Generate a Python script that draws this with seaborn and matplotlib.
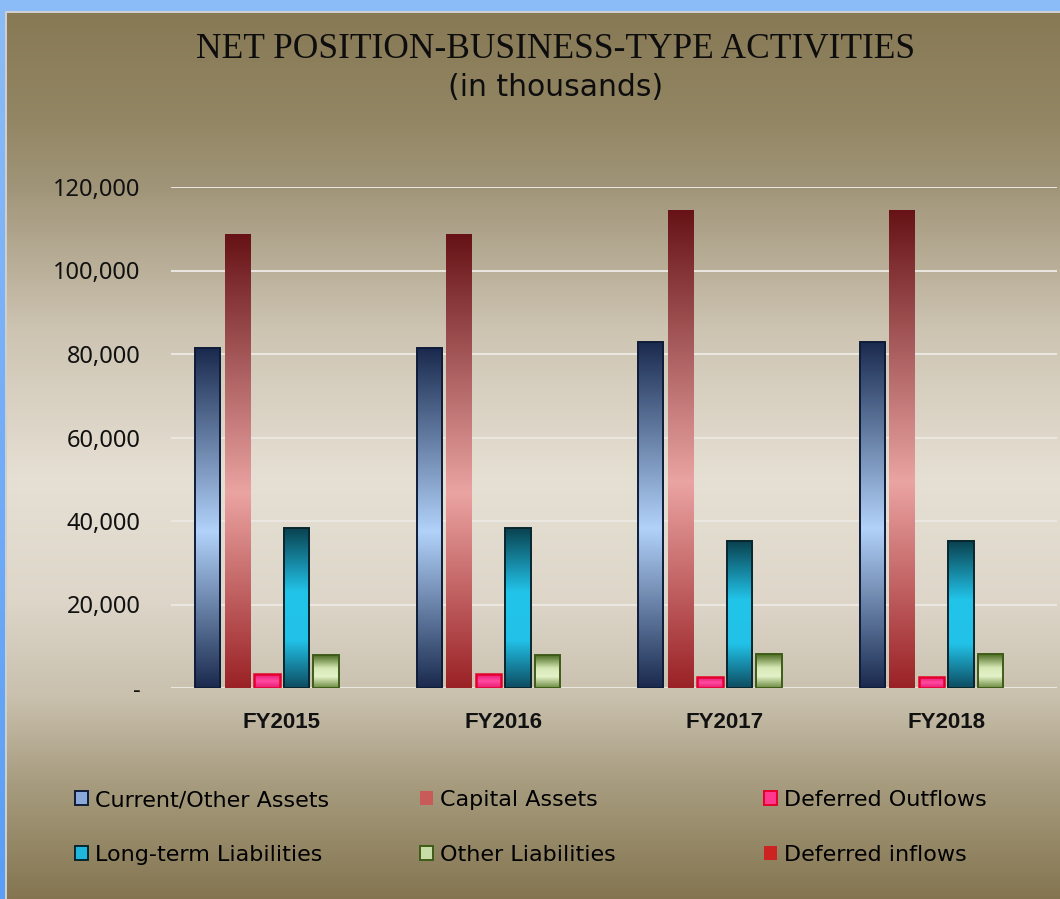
import numpy as np
import pandas as pd
import matplotlib
matplotlib.use("Agg")
import matplotlib.pyplot as plt
import seaborn as sns
from matplotlib.colors import LinearSegmentedColormap, to_rgb
from matplotlib.patches import Patch, Rectangle

# ---------------- data ----------------
years = ["FY2015", "FY2016", "FY2017", "FY2018"]
series = ["Current/Other Assets", "Capital Assets", "Deferred Outflows",
          "Long-term Liabilities", "Other Liabilities", "Deferred inflows"]
current_other_assets = [81400, 81400, 82900, 82900]
capital_assets = [108700, 108700, 114500, 114500]
deferred_outflows = [3300, 3300, 2600, 2600]
long_term_liabilities = [38300, 38300, 35200, 35200]
other_liabilities = [7900, 7900, 8100, 8100]
deferred_inflows = [0, 0, 0, 0]
y_ticks = [0, 20000, 40000, 60000, 80000, 100000, 120000]
y_tick_labels = ["-", "20,000", "40,000", "60,000", "80,000", "100,000", "120,000"]
title = "NET POSITION-BUSINESS-TYPE ACTIVITIES"
subtitle = "(in thousands)"

values = [current_other_assets, capital_assets, deferred_outflows,
          long_term_liabilities, other_liabilities, deferred_inflows]
df = pd.DataFrame([(y, s, v[i]) for s, v in zip(series, values)
                   for i, y in enumerate(years)],
                  columns=["year", "series", "value"])

# ---------------- styles ----------------
W, H = 1060, 899
mid_colors = ["#8aa8d8", "#c85a5a", "#ff3a8e", "#1fb8dc", "#c8dca8", "#cc2222"]
edge_colors = ["#0f1c38", "#7a1a1c", "#e4002a", "#08262e", "#3e5c18", "#cc2222"]
edge_widths = [1.4, 0.0, 1.8, 1.4, 1.4, 0.0]
gradients = [
    [(0.0, "#1a2a4e"), (0.46, "#b2d2fa"), (1.0, "#1a2a4e")],
    [(0.0, "#9a2226"), (0.43, "#eaa4a2"), (1.0, "#661216")],
    [(0.0, "#e81a72"), (0.5, "#ff4aa0"), (1.0, "#e81a72")],
    [(0.0, "#0d4c60"), (0.3, "#22c2e8"), (0.6, "#22c4ea"), (1.0, "#0a4250")],
    [(0.0, "#6a8a40"), (0.35, "#e4f2c8"), (0.6, "#d6e8b6"), (1.0, "#4a6a20")],
    [(0.0, "#cc2222"), (1.0, "#cc2222")],
]
bg_stops_y = [11, 120, 187, 330, 480, 600, 700, 780, 899]
bg_stops_c = [(135, 121, 84), (147, 134, 100), (161, 149, 121), (205, 196, 178),
              (230, 224, 212), (221, 214, 201), (200, 191, 172), (168, 157, 128),
              (132, 117, 80)]

fig = plt.figure(figsize=(W / 100, H / 100), dpi=100)

# background
bg = fig.add_axes([0, 0, 1, 1], zorder=-5)
ys = np.arange(H)
cols = np.array(bg_stops_c, dtype=float) / 255.0
grad = np.stack([np.interp(ys, bg_stops_y, cols[:, k]) for k in range(3)], axis=-1)
bg.imshow(grad[:, None, :], extent=[0, W, H, 0], aspect="auto", interpolation="bilinear")
bg.add_patch(Rectangle((0, 0), W, 11, color="#8cbcf8", lw=0))
lg = np.linspace(0, 1, 256)[:, None]
left_cmap = LinearSegmentedColormap.from_list("lb", ["#8cbcf8", "#5a9ef5"])
bg.imshow(lg, cmap=left_cmap, extent=[0, 5, H, 0], aspect="auto")
bg.add_patch(Rectangle((5, 11), W, 2, color="#cfcfcf", lw=0))
bg.add_patch(Rectangle((5, 11), 2, H, color="#cfcfcf", lw=0))
bg.set_xlim(0, W)
bg.set_ylim(H, 0)
bg.axis("off")

# main axes
ax = fig.add_axes([171 / W, 1 - 688 / H, (1057 - 171) / W, (688 - 187) / H])
ax.set_facecolor("none")
sns.barplot(data=df, x="year", y="value", hue="series", hue_order=series,
            order=years, palette=mid_colors, saturation=1, width=0.8, gap=0.15,
            legend=False, ax=ax, zorder=3)

for si, cont in enumerate(ax.containers):
    cmap = LinearSegmentedColormap.from_list(f"g{si}", gradients[si])
    for bar in cont:
        h = bar.get_height()
        bar.set_zorder(4)
        bar.set_edgecolor(edge_colors[si])
        bar.set_linewidth(edge_widths[si])
        if h <= 0:
            continue
        x0, w, y0 = bar.get_x(), bar.get_width(), bar.get_y()
        im = ax.imshow(lg, cmap=cmap, origin="lower", aspect="auto",
                       extent=[x0, x0 + w, y0, y0 + h], zorder=3.5,
                       interpolation="bilinear")
        im.set_clip_path(bar)
        bar.set_facecolor("none")

ax.set_xlim(-0.5, len(years) - 0.5)
ax.set_ylim(0, 120000)
ax.set_yticks(y_ticks)
ax.set_yticklabels(y_tick_labels, fontsize=17, family="Noto Sans", color="#111111")
ax.set_xticks(range(len(years)))
ax.set_xticklabels(years, fontsize=16, family="Liberation Sans", weight="bold", color="#111111")
ax.tick_params(axis="both", length=0)
ax.tick_params(axis="y", pad=22)
ax.tick_params(axis="x", pad=17)
ax.set_xlabel("")
ax.set_ylabel("")
ax.grid(axis="y", color="#ebe8e2", linewidth=1.4, zorder=1)
ax.grid(axis="x", visible=False)
ax.set_axisbelow(True)
for sp in ax.spines.values():
    sp.set_visible(False)

# titles
fig.text(556 / W, 1 - 58 / H, title, ha="center", va="baseline",
         family="Liberation Serif", fontsize=25.5, color="#0d0d0d")
fig.text(556 / W, 1 - 88 / H, subtitle, ha="center", va="center",
         family="DejaVu Sans", fontsize=21.5, color="#0d0d0d")

# legend (row-wise, 3 columns)
leg_x = [75, 420, 764]
leg_y = [800, 855]
for i, name in enumerate(series):
    r, c = divmod(i, 3)
    handle = Patch(facecolor=mid_colors[i], edgecolor=edge_colors[i],
                   linewidth=1.4 if edge_widths[i] > 0 else 0)
    fig.legend(handles=[handle], labels=[name], loc="center left",
               bbox_to_anchor=(leg_x[c] / W, 1 - leg_y[r] / H),
               frameon=False, borderpad=0, borderaxespad=0,
               handlelength=0.6, handleheight=0.6, handletextpad=0.3,
               prop={"family": "DejaVu Sans", "size": 16})

fig.savefig("out.png", dpi=100)
